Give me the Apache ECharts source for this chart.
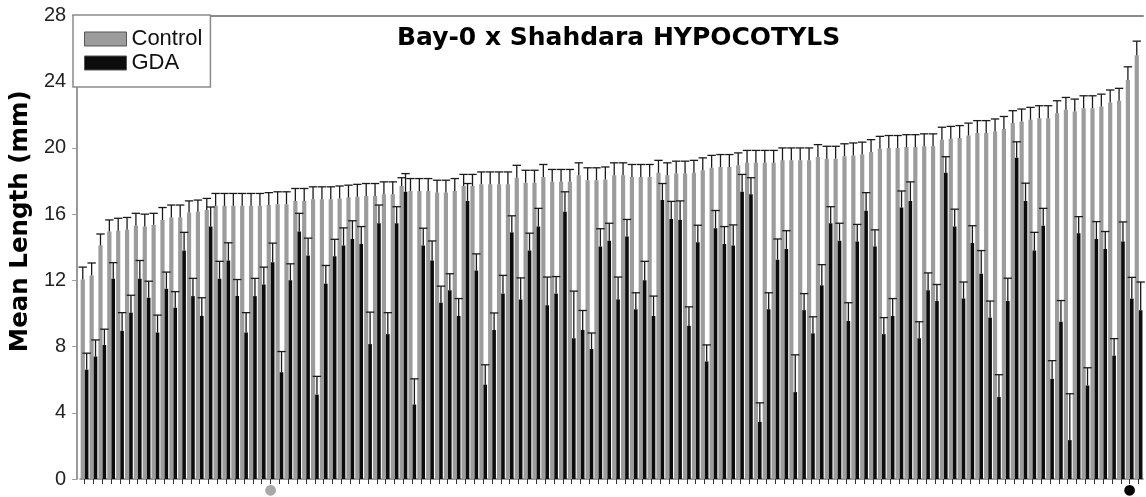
<!DOCTYPE html>
<html>
<head>
<meta charset="utf-8">
<title>Bay-0 x Shahdara HYPOCOTYLS</title>
<script src="https://cdn.jsdelivr.net/npm/echarts@6/dist/echarts.min.js"></script>
<style>
  html, body { margin: 0; padding: 0; background: #fff; }
  #main { width: 1146px; height: 497px; }
</style>
</head>
<body>
<div id="main"></div>
<script>
// RIL lines, sorted by control hypocotyl length
var lines = [];
for (var i = 1; i <= 120; i++) lines.push("RIL " + i);

// parental lines marked under the axis (1-based position -> colour key)
var parentMarks = { 22: "g", 119: "k" };

var yTicks = [0, 4, 8, 12, 16, 20, 24, 28];

var control = [
  12.05, 12.3, 14.1, 14.95, 15.0, 15.05, 15.3, 15.25, 15.35, 15.65,
  15.8, 15.8, 16.1, 16.15, 16.25, 16.5, 16.5, 16.5, 16.5, 16.5,
  16.5, 16.55, 16.6, 16.6, 16.8, 16.8, 16.9, 16.9, 16.9, 16.95,
  17.0, 17.05, 17.1, 17.1, 17.2, 17.2, 17.7, 17.4, 17.4, 17.4,
  17.3, 17.3, 17.4, 17.7, 17.7, 17.8, 17.8, 17.8, 17.8, 18.2,
  17.9, 17.9, 18.25, 17.95, 17.95, 17.95, 18.35, 18.05, 18.05, 18.1,
  18.35, 18.35, 18.25, 18.25, 18.25, 18.5, 18.35, 18.45, 18.45, 18.5,
  18.65, 18.8, 18.85, 18.85, 18.95, 19.1, 19.1, 19.1, 19.1, 19.25,
  19.25, 19.25, 19.25, 19.45, 19.35, 19.35, 19.5, 19.55, 19.6, 19.75,
  19.95, 20.0, 20.0, 20.05, 20.05, 20.1, 20.1, 20.5, 20.55, 20.6,
  20.75, 20.9, 20.9, 21.0, 21.15, 21.5, 21.6, 21.7, 21.8, 21.8,
  22.1, 22.3, 22.2, 22.4, 22.4, 22.5, 22.75, 22.85, 24.1, 25.6
];
var controlErr = [
  0.75, 0.75, 0.7, 0.7, 0.75, 0.75, 0.75, 0.75, 0.7, 0.75,
  0.75, 0.75, 0.7, 0.7, 0.7, 0.75, 0.75, 0.75, 0.75, 0.75,
  0.75, 0.75, 0.75, 0.75, 0.75, 0.75, 0.75, 0.75, 0.75, 0.75,
  0.75, 0.75, 0.75, 0.75, 0.75, 0.75, 0.5, 0.75, 0.75, 0.75,
  0.75, 0.75, 0.75, 0.7, 0.7, 0.75, 0.75, 0.75, 0.75, 0.75,
  0.75, 0.75, 0.75, 0.75, 0.75, 0.75, 0.75, 0.75, 0.75, 0.75,
  0.75, 0.75, 0.75, 0.75, 0.75, 0.75, 0.75, 0.75, 0.75, 0.75,
  0.75, 0.75, 0.75, 0.75, 0.75, 0.75, 0.75, 0.75, 0.75, 0.75,
  0.75, 0.75, 0.75, 0.75, 0.75, 0.75, 0.75, 0.75, 0.75, 0.75,
  0.75, 0.75, 0.75, 0.75, 0.75, 0.75, 0.75, 0.75, 0.75, 0.75,
  0.75, 0.75, 0.75, 0.75, 0.75, 0.75, 0.75, 0.75, 0.75, 0.75,
  0.75, 0.75, 0.75, 0.75, 0.75, 0.75, 0.75, 0.75, 0.8, 0.85
];

var gda = [
  6.6, 7.4, 8.1, 12.1, 8.95, 10.05, 12.1, 10.95, 8.85, 11.5,
  10.35, 13.8, 11.05, 9.85, 15.25, 12.1, 13.2, 11.05, 8.85, 11.05,
  11.75, 13.1, 6.45, 12.0, 14.95, 13.5, 5.1, 11.8, 13.45, 14.1,
  14.5, 14.2, 8.15, 15.45, 8.75, 15.45, 17.35, 4.5, 14.1, 13.2,
  10.65, 11.4, 9.85, 16.8, 12.6, 5.7, 9.0, 11.2, 14.9, 10.85,
  13.8, 15.25, 10.5, 11.2, 16.15, 8.5, 9.0, 7.85, 14.05, 14.4,
  10.85, 14.65, 10.25, 12.0, 9.85, 16.85, 15.7, 15.65, 9.25, 14.3,
  7.1, 15.15, 14.2, 14.1, 17.35, 17.2, 3.45, 10.25, 13.25, 13.9,
  5.25, 10.2, 8.8, 11.7, 15.45, 14.4, 9.55, 14.35, 16.2, 14.05,
  8.75, 9.85, 16.4, 16.8, 8.5, 11.4, 10.75, 18.5, 15.25, 10.9,
  14.25, 12.4, 9.75, 4.95, 10.75, 19.4, 16.8, 13.8, 15.3, 6.05,
  9.5, 2.35, 14.85, 5.65, 14.5, 13.9, 7.45, 14.35, 10.9, 10.2
];
var gdaErr = [
  1.0, 1.0, 0.95, 0.97, 1.1, 1.05, 1.1, 1.0, 1.05, 1.0,
  0.97, 1.1, 1.07, 1.1, 1.18, 1.05, 1.07, 1.0, 1.2, 1.07,
  1.05, 1.15, 1.25, 1.0, 1.1, 1.05, 1.1, 1.1, 1.03, 1.07,
  1.1, 1.05, 1.93, 1.1, 1.3, 1.0, 1.1, 1.55, 1.05, 1.18,
  1.0, 1.0, 1.05, 1.05, 1.0, 1.2, 1.03, 1.1, 1.0, 1.3,
  1.05, 1.1, 1.7, 1.03, 1.2, 2.85, 1.18, 0.97, 1.07, 1.05,
  1.35, 1.03, 1.0, 1.15, 1.2, 1.0, 1.07, 1.15, 1.15, 1.03,
  1.0, 1.07, 1.05, 1.25, 1.05, 1.0, 1.15, 1.0, 1.25, 1.1,
  2.25, 1.0, 1.0, 1.25, 1.0, 1.05, 1.1, 1.03, 1.1, 1.0,
  1.0, 1.05, 1.0, 1.15, 1.0, 1.05, 1.0, 0.97, 1.05, 1.0,
  1.05, 1.4, 1.0, 1.35, 1.38, 0.97, 1.07, 1.1, 1.05, 1.1,
  1.28, 2.8, 1.0, 1.07, 1.05, 1.05, 1.03, 1.18, 1.28, 1.7
];

var grayColor = "#9c9c9c";
var blackColor = "#0c0c0c";
var ctrlW = 4.2;
var gdaW = 3.6;

function errData(vals, errs) {
  return vals.map(function (v, i) { return [i, v, errs[i]]; });
}

// upper whisker with a cap; shift = offset of the bar from the category centre
function errRenderer(shift) {
  return function (params, api) {
    var base = api.coord([api.value(0), api.value(1)]);
    var top = api.coord([api.value(0), api.value(1) + api.value(2)]);
    var x = base[0] + shift;
    var style = { stroke: "#1a1a1a", lineWidth: 1.3 };
    return {
      type: "group",
      children: [
        { type: "line", shape: { x1: x, y1: base[1], x2: x, y2: top[1] }, style: style },
        { type: "line", shape: { x1: x - 4.2, y1: top[1], x2: x + 4.2, y2: top[1] }, style: style }
      ]
    };
  };
}

var chart = echarts.init(document.getElementById("main"));
chart.setOption({
  animation: false,
  backgroundColor: "#fff",
  textStyle: { fontFamily: "Liberation Sans, Arial, sans-serif" },
  title: {
    text: "Bay-0 x Shahdara HYPOCOTYLS",
    left: 397,
    top: 26,
    padding: 0,
    textStyle: { fontFamily: "DejaVu Sans", fontWeight: "bold", fontSize: 25, color: "#000" }
  },
  legend: {
    data: ["Control", "GDA"],
    orient: "vertical",
    left: 73,
    top: 15,
    padding: [13, 8, 13, 11],
    itemWidth: 42,
    itemHeight: 14,
    itemGap: 2,
    icon: "rect",
    backgroundColor: "#fff",
    borderColor: "#8a8a8a",
    borderWidth: 1.5,
    borderRadius: 0,
    itemStyle: { borderColor: "#555", borderWidth: 1 },
    textStyle: { fontFamily: "Liberation Sans", fontSize: 22, color: "#111" },
    itemTextGap: 12
  },
  grid: { left: 76, right: 3, top: 15.5, bottom: 17.5 },
  xAxis: [
    {
      type: "category",
      data: lines,
      boundaryGap: true,
      axisLine: { lineStyle: { color: "#777", width: 1.5 } },
      axisTick: { show: true, alignWithLabel: true, interval: 0, length: 5, lineStyle: { color: "#333", width: 1 } },
      axisLabel: {
        interval: 0,
        margin: 4,
        formatter: function (v, idx) {
          var m = parentMarks[idx + 1];
          return m ? "{" + m + "|\u25CF}" : "";
        },
        rich: {
          g: { color: "#a8a8a8", fontSize: 14, fontFamily: "DejaVu Sans" },
          k: { color: "#000", fontSize: 14, fontFamily: "DejaVu Sans" }
        }
      },
      splitLine: { show: false }
    },
    {
      type: "category",
      position: "top",
      data: lines,
      axisLine: { lineStyle: { color: "#8a8a8a", width: 2 } },
      axisTick: { show: false },
      axisLabel: { show: false }
    }
  ],
  yAxis: {
    type: "value",
    min: yTicks[0],
    max: yTicks[yTicks.length - 1],
    interval: 4,
    offset: 3,
    name: "Mean Length (mm)",
    nameLocation: "middle",
    nameRotate: 90,
    nameGap: 40,
    nameTextStyle: { fontFamily: "DejaVu Sans", fontWeight: "bold", fontSize: 24.5, color: "#000", padding: [0, 0, 0, 52] },
    axisLine: { show: true, lineStyle: { color: "#777", width: 1.5 } },
    axisTick: { show: true, length: 5, lineStyle: { color: "#999" } },
    axisLabel: { fontSize: 20, color: "#222", margin: 11, fontFamily: "Liberation Sans" },
    splitLine: { show: false }
  },
  series: [
    {
      name: "Control",
      type: "bar",
      data: control,
      barWidth: ctrlW,
      barGap: "0%",
      itemStyle: { color: grayColor }
    },
    {
      name: "GDA",
      type: "bar",
      data: gda,
      barWidth: gdaW,
      barGap: "0%",
      itemStyle: { color: blackColor }
    },
    {
      type: "custom",
      name: "Control SE",
      data: errData(control, controlErr),
      encode: { x: 0, y: 1 },
      renderItem: errRenderer(-gdaW / 2),
      z: 3
    },
    {
      type: "custom",
      name: "GDA SE",
      data: errData(gda, gdaErr),
      encode: { x: 0, y: 1 },
      renderItem: errRenderer(ctrlW / 2),
      z: 3
    }
  ]
});
</script>
</body>
</html>
